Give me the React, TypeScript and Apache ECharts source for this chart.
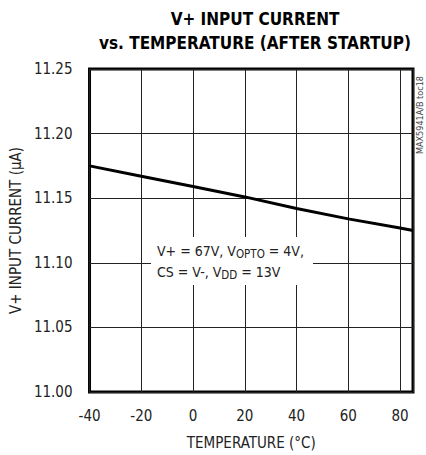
import React, { useEffect, useRef } from "react";
import * as echarts from "echarts";

const temperatures = [-40, -20, 0, 20, 40, 60, 80, 85];
const currents = [11.175, 11.167, 11.159, 11.151, 11.142, 11.134, 11.127, 11.125];
const titleLines = ["V+ INPUT CURRENT", "vs. TEMPERATURE (AFTER STARTUP)"];
const xName = "TEMPERATURE (°C)";
const yName = "V+ INPUT CURRENT (µA)";
const tocLabel = "MAX5941A/B toc18";

const FONT = "'Liberation Sans Narrow', 'DejaVu Sans Condensed', 'Arial Narrow', sans-serif";

export default function App() {
  const ref = useRef<HTMLDivElement>(null);
  useEffect(() => {
    if (!ref.current) return;
    const chart = echarts.init(ref.current, null, { renderer: "svg" });
    const data = temperatures.map((t, i) => [t, currents[i]]);
    chart.setOption({
      animation: false,
      backgroundColor: "#fff",
      textStyle: { fontFamily: FONT },
      title: {
        text: titleLines.join("\n"),
        left: 250,
        textAlign: "center",
        top: 2,
        textStyle: { fontFamily: FONT, fontWeight: "bold", fontSize: 17, lineHeight: 24, color: "#000" },
      },
      grid: { left: 88, right: 13, top: 69, bottom: 61, show: true, borderColor: "#000", borderWidth: 3, backgroundColor: "transparent" },
      xAxis: {
        type: "value",
        min: -40,
        max: 85,
        interval: 20,
        name: xName,
        nameLocation: "middle",
        nameGap: 43,
        nameTextStyle: { fontFamily: FONT, fontSize: 15, color: "#222" },
        axisLine: { show: false },
        axisTick: { show: false },
        axisLabel: { showMaxLabel: false, margin: 16, fontFamily: FONT, fontSize: 15, color: "#222" },
        splitLine: { show: true, lineStyle: { color: "#222", width: 1 } },
      },
      yAxis: {
        type: "value",
        min: 11,
        max: 11.25,
        interval: 0.05,
        name: yName,
        nameLocation: "middle",
        nameGap: 64,
        nameTextStyle: { fontFamily: FONT, fontSize: 15, color: "#222" },
        axisLine: { show: false },
        axisTick: { show: false },
        axisLabel: { margin: 17, fontFamily: FONT, fontSize: 15, color: "#222", formatter: (v: number) => v.toFixed(2) },
        splitLine: { show: true, lineStyle: { color: "#222", width: 1 } },
      },
      series: [
        {
          type: "line",
          data,
          showSymbol: false,
          lineStyle: { color: "#000", width: 3 },
          z: 3,
        },
      ],
      graphic: [
        { type: "rect", shape: { x: 151, y: 237, width: 162, height: 48 }, style: { fill: "#fff" }, z: 10 },
        {
          type: "text",
          x: 157,
          y: 240,
          z: 11,
          style: {
            text: "V+ = 67V, V{sub|OPTO} = 4V,\nCS = V-, V{sub|DD} = 13V",
            fontFamily: FONT,
            fontSize: 14,
            lineHeight: 21,
            fill: "#222",
            rich: {
              sub: { fontFamily: FONT, fontSize: 11.5, padding: [6, 0, 0, 0], fill: "#222" },
            },
          },
        },
        {
          type: "text",
          x: 420,
          y: 115,
          rotation: Math.PI / 2,
          z: 11,
          style: { text: tocLabel, fontFamily: FONT, fontSize: 9, fill: "#444", align: "center", verticalAlign: "middle" },
        },
      ],
    });
    return () => chart.dispose();
  }, []);
  return <div ref={ref} style={{ position: "fixed", left: 0, top: 0, width: 426, height: 455 }} />;
}
